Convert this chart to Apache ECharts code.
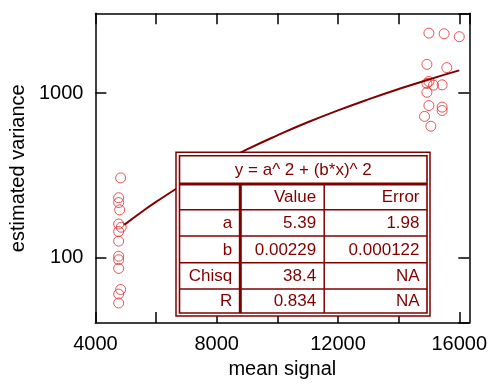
<!DOCTYPE html>
<html>
<head>
<meta charset="utf-8">
<script src="https://cdn.jsdelivr.net/npm/echarts@6/dist/echarts.min.js"></script>
<style>
html,body{margin:0;padding:0;background:#fff;}
#chart{width:491px;height:384px;}
</style>
</head>
<body>
<div id="chart"></div>
<script>
// observed data (mean signal, estimated variance)
const signalValues = [4833, 4767, 4767, 4800, 4767, 4853, 4767, 4767, 4767, 4767, 4767, 4833, 4767, 4767,
  14998, 15500, 16000, 14932, 15588, 14998, 14932, 15149, 15434, 14932, 14998, 15434, 15434, 14854, 15063];
const varianceValues = [305, 231, 216, 195, 160, 153, 144, 126, 102, 97, 86, 64, 60, 53,
  2312, 2291, 2198, 1493, 1426, 1175, 1143, 1117, 1121, 1010, 839, 821, 783, 721, 628];

// fitted curve
const fitX = [4950, 5500, 6000, 7000, 8000, 9000, 10000, 11000, 12000, 13000, 14000, 15000, 16000];
const fitY = [158, 188, 218, 286, 365, 454, 553, 664, 784, 915, 1057, 1209, 1372];

// tick labels
const xTickLabels = [4000, 8000, 12000, 16000];
const yTickLabels = [100, 1000];

// fit table
const fitEquation = 'y = a^ 2 + (b*x)^ 2';
const tableHeader = ['', 'Value', 'Error'];
const paramNames = ['a', 'b', 'Chisq', 'R'];
const paramValues = ['5.39', '0.00229', '38.4', '0.834'];
const paramErrors = ['1.98', '0.000122', 'NA', 'NA'];

const FONT = "'Liberation Sans', Arial, sans-serif";
const DARK = '#800000';
const chart = echarts.init(document.getElementById('chart'), null, {renderer: 'canvas'});

const scatterData = signalValues.map((x, i) => [x, varianceValues[i]]);
const fitData = fitX.map((x, i) => [x, fitY[i]]);

// table graphic
const T = {ox0: 176, oy0: 152.3, ox1: 430, oy1: 316,
           ix0: 179.5, iy0: 155.8, ix1: 427, iy1: 313,
           head: 184, rows: [184, 209.7, 236, 262.8, 289, 313],
           c1: 240.3, c2: 324.2};
const g = [];
g.push({type: 'rect', shape: {x: T.ox0, y: T.oy0, width: T.ox1 - T.ox0, height: T.oy1 - T.oy0},
  style: {fill: '#fff', stroke: DARK, lineWidth: 1.5}, z: 100});
g.push({type: 'rect', shape: {x: T.ix0, y: T.iy0, width: T.ix1 - T.ix0, height: T.iy1 - T.iy0},
  style: {fill: '#fff', stroke: DARK, lineWidth: 1.6}, z: 101});
function hline(y, w) {
  g.push({type: 'line', shape: {x1: T.ix0, y1: y, x2: T.ix1, y2: y}, style: {stroke: DARK, lineWidth: w}, z: 102});
}
function vline(x, w) {
  g.push({type: 'line', shape: {x1: x, y1: T.head, x2: x, y2: T.iy1}, style: {stroke: DARK, lineWidth: w}, z: 102});
}
hline(T.head, 3);
for (let i = 1; i < T.rows.length - 1; i++) hline(T.rows[i], 1.5);
vline(T.c1, 3);
vline(T.c2, 1.5);
function txt(s, x, y, align) {
  g.push({type: 'text', x: x, y: y, z: 103,
    style: {text: s, fill: DARK, font: '17px ' + FONT, textAlign: align, textVerticalAlign: 'middle'}});
}
txt(fitEquation, (T.ix0 + T.ix1) / 2, (T.iy0 + T.head) / 2, 'center');
const colRight = [T.c1 - 8, T.c2 - 8, T.ix1 - 7.5];
const tableRows = [tableHeader].concat(paramNames.map((n, i) => [n, paramValues[i], paramErrors[i]]));
tableRows.forEach((row, r) => {
  const yc = (T.rows[r] + T.rows[r + 1]) / 2 + 0.5;
  row.forEach((s, c) => { if (s) txt(s, colRight[c], yc, 'right'); });
});

const axisLineStyle = {color: '#000', width: 1.5};
const xBase = {
  type: 'value', min: 4000, max: 16330, interval: 2000,
  axisLine: {show: true, onZero: false, lineStyle: axisLineStyle},
  axisTick: {show: true, inside: true, length: 11, lineStyle: axisLineStyle},
  splitLine: {show: false}
};
const yBase = {
  type: 'log', logBase: 10, min: 40, max: 3050,
  axisLine: {show: true, onZero: false, lineStyle: axisLineStyle},
  axisTick: {show: true, inside: true, length: 11, lineStyle: axisLineStyle},
  splitLine: {show: false}, minorTick: {show: false}
};

chart.setOption({
  animation: false,
  backgroundColor: '#fff',
  grid: {left: 92.3, top: 13.3, right: 21.7, bottom: 57.3, containLabel: false},
  xAxis: [
    Object.assign({}, xBase, {
      position: 'bottom',
      name: 'mean signal', nameLocation: 'middle', nameGap: 30,
      nameTextStyle: {fontSize: 20, fontFamily: FONT, color: '#000'},
      axisLabel: {show: true, fontSize: 20, fontFamily: FONT, color: '#000', margin: 11,
        showMaxLabel: false,
        formatter: v => xTickLabels.indexOf(Math.round(v)) >= 0 ? String(Math.round(v)) : ''}
    }),
    Object.assign({}, xBase, {position: 'top', axisLabel: {show: false}})
  ],
  yAxis: [
    Object.assign({}, yBase, {
      position: 'left',
      name: 'estimated variance', nameLocation: 'middle', nameGap: 67,
      nameTextStyle: {fontSize: 20, fontFamily: FONT, color: '#000'},
      axisLabel: {show: true, fontSize: 20, fontFamily: FONT, color: '#000', margin: 12,
        showMinLabel: false, showMaxLabel: false,
        formatter: v => yTickLabels.indexOf(Math.round(v)) >= 0 ? String(Math.round(v)) : ''}
    }),
    Object.assign({}, yBase, {position: 'right', axisLabel: {show: false}})
  ],
  series: [
    {type: 'scatter', xAxisIndex: 0, yAxisIndex: 0, data: scatterData,
      symbol: 'circle', symbolSize: 10,
      itemStyle: {color: 'rgba(255,255,255,0)', borderColor: '#e42a2a', borderWidth: 1}, z: 2},
    {type: 'line', xAxisIndex: 0, yAxisIndex: 0, data: fitData, showSymbol: false, smooth: true,
      lineStyle: {color: DARK, width: 2}, z: 3}
  ],
  graphic: g
});
</script>
</body>
</html>
